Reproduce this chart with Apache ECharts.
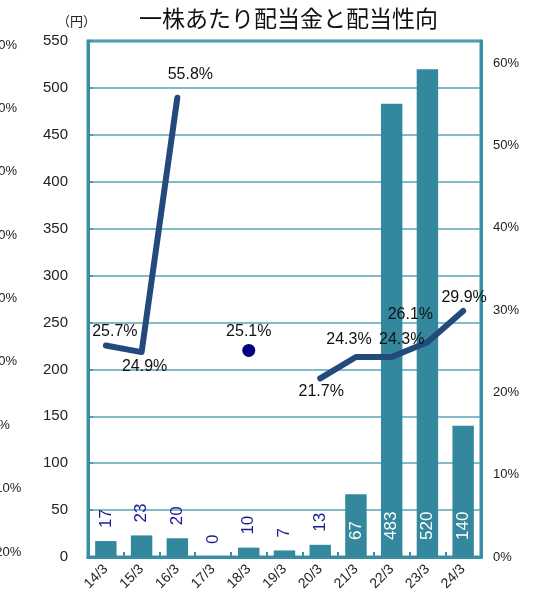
<!DOCTYPE html>
<html><head><meta charset="utf-8">
<script src="https://cdn.jsdelivr.net/npm/echarts@6/dist/echarts.min.js"></script>
<style>html,body{margin:0;padding:0;background:#fff}#c{width:553px;height:598px}</style>
</head><body><div id="c"></div>
<script>
const categories = ['14/3','15/3','16/3','17/3','18/3','19/3','20/3','21/3','22/3','23/3','24/3'];
const dividends = [17, 23, 20, 0, 10, 7, 13, 67, 483, 520, 140];
const payoutLine = [25.7, 24.9, 55.8, null, null, null, 21.7, 24.3, 24.3, 26.1, 29.9];
const payoutDot = [null, null, null, null, 25.1, null, null, null, null, null, null];
const titleText = '一株あたり配当金と配当性向';
const unitText = '（円）';

const FONT = "'Liberation Sans', Arial, 'Noto Sans CJK JP', sans-serif";
const teal = '#3a8ea3';
const barColor = '#33889e';
const lineColor = '#234a7c';
const navy = '#1a1a90';

const barData = dividends.map(v => {
  const big = v >= 50;
  return {
    value: v,
    label: big ? {
      position: 'insideBottom', distance: 17, color: '#fff'
    } : {
      position: 'top', distance: 13, color: navy
    }
  };
});

const lineOffsets = {
  0: {position: 'top', offset: [9, 0]},
  1: {position: 'bottom', offset: [3, 1]},
  2: {position: 'top', offset: [13, -10]},
  6: {position: 'bottom', offset: [1, 0]},
  7: {position: 'top', offset: [-7, -4]},
  8: {position: 'top', offset: [10, -4]},
  9: {position: 'top', offset: [-17, -14]},
  10: {position: 'top', offset: [1, 0]}
};
const lineData = payoutLine.map((v, i) => v == null ? '-' : {value: v, label: lineOffsets[i]});

const chart = echarts.init(document.getElementById('c'), null, {renderer: 'canvas'});
chart.setOption({
  animation: false,
  textStyle: {fontFamily: FONT},
  title: [{
    text: titleText, left: 134, top: 2,
    textStyle: {fontSize: 23, fontWeight: 'normal', color: '#111', fontFamily: "'Noto Sans CJK JP', sans-serif"}
  }, {
    text: unitText, left: 52, top: 10,
    textStyle: {fontSize: 13, fontWeight: 'normal', color: '#222', fontFamily: "'Noto Sans CJK JP', sans-serif"}
  }],
  grid: [
    {left: 88, right: 72, top: 41, bottom: 41, show: true, borderColor: teal, borderWidth: 3},
    {left: 0, width: 10, top: 45, height: 507, show: false}
  ],
  xAxis: [{
    type: 'category', data: categories, gridIndex: 0,
    axisLine: {lineStyle: {color: teal, width: 3}},
    axisTick: {show: true, inside: true, length: 5, lineStyle: {color: teal, width: 2}},
    axisLabel: {rotate: 45, interval: 0, fontSize: 14, color: '#222', margin: 10}
  }, {
    type: 'category', data: categories, gridIndex: 1, show: false
  }],
  yAxis: [{
    type: 'value', min: 0, max: 550, interval: 50, gridIndex: 0,
    axisLine: {show: true, lineStyle: {color: teal, width: 3}},
    axisTick: {show: true, inside: true, length: 5, lineStyle: {color: teal, width: 1.5}},
    splitLine: {lineStyle: {color: '#5aa3b5', width: 1.5}},
    axisLabel: {fontSize: 15, color: '#222', margin: 20}
  }, {
    type: 'value', min: 0, max: 62.7, interval: 10, position: 'right', gridIndex: 0,
    axisLine: {show: true, lineStyle: {color: teal, width: 3}},
    axisTick: {show: false},
    splitLine: {show: false},
    axisLabel: {fontSize: 13, color: '#222', margin: 12, showMaxLabel: false,
      formatter: v => (Math.abs(v % 10) < 1e-6 ? Math.round(v) + '%' : '')}
  }, {
    type: 'value', min: -20, max: 60, interval: 10, gridIndex: 1, position: 'left',
    axisLine: {show: false}, axisTick: {show: false}, splitLine: {show: false},
    axisLabel: {fontSize: 13, color: '#222', margin: 19, align: 'left', formatter: '{value}%'}
  }],
  series: [{
    type: 'bar', data: barData, xAxisIndex: 0, yAxisIndex: 0,
    barWidth: '60%',
    itemStyle: {color: barColor},
    label: {show: true, rotate: 90, align: 'left', verticalAlign: 'middle', fontSize: 17}
  }, {
    type: 'line', data: lineData, xAxisIndex: 0, yAxisIndex: 1,
    connectNulls: false,
    symbol: 'circle', symbolSize: 1,
    itemStyle: {color: lineColor},
    lineStyle: {color: lineColor, width: 6, cap: 'round', join: 'round'},
    label: {show: true, fontSize: 16, color: '#111', formatter: p => p.value.toFixed(1) + '%'},
    z: 5
  }, {
    type: 'line', data: payoutDot.map(v => v == null ? '-' : v), xAxisIndex: 0, yAxisIndex: 1,
    symbol: 'circle', symbolSize: 13,
    itemStyle: {color: '#000080'},
    lineStyle: {width: 0},
    label: {show: true, position: 'top', fontSize: 16, color: '#111', distance: 4,
      formatter: p => p.value.toFixed(1) + '%'},
    z: 6
  }]
});
</script></body></html>
